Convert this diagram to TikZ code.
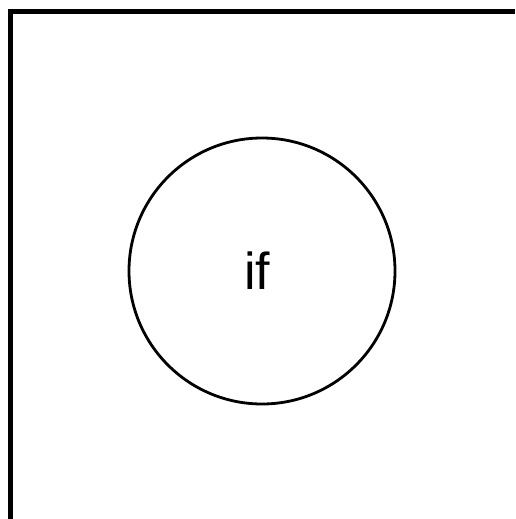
\documentclass[tikz,border=0pt]{standalone}
\usepackage{fontspec}
\setmainfont{Liberation Sans}
\usetikzlibrary{positioning}

\begin{document}
\begin{tikzpicture}[
  x=1pt,y=-1pt,
  state/.style={circle,draw=black,line width=2.8pt,minimum size=266pt,
    inner sep=0pt,font=\fontsize{52}{60}\selectfont},
  frame/.style={line width=5pt,black},
]
\useasboundingbox (0,0) rectangle (515,519);

% frame
\draw[frame] (10.5,519) -- (10.5,11.5) -- (515,11.5);

% state
\node[state] (cond) at (262,271) {if\kern10pt};

\end{tikzpicture}
\end{document}
